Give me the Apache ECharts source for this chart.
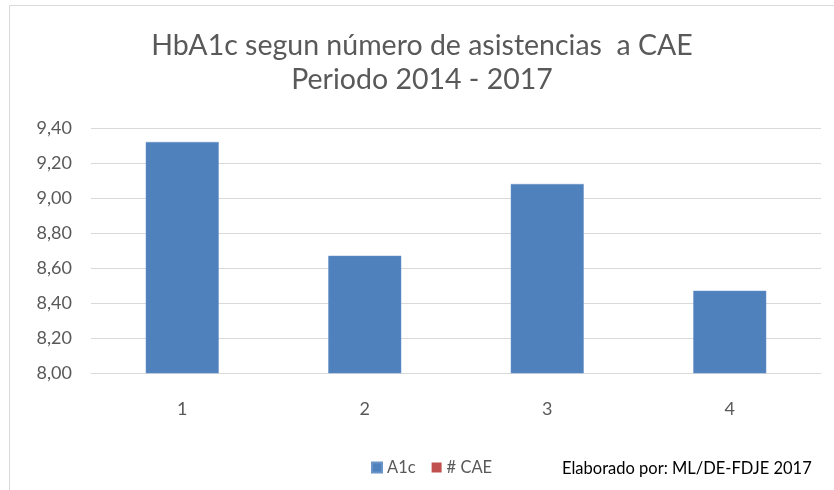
<!DOCTYPE html>
<html><head><meta charset="utf-8">
<script src="https://cdn.jsdelivr.net/npm/echarts@6/dist/echarts.min.js"></script>
<style>html,body{margin:0;padding:0;background:#fff}#c{width:834px;height:490px}</style>
</head><body><div id="c"></div>
<script>
const categories = ['1', '2', '3', '4'];
const a1cValues = [9.32, 8.67, 9.08, 8.47];
const caeValues = [];
const seriesNames = ['A1c', '# CAE'];
const titleLines = ['HbA1c segun número de asistencias  a CAE', 'Periodo 2014 - 2017'];
const footnote = 'Elaborado por: ML/DE-FDJE 2017';

const chart = echarts.init(document.getElementById('c'));
const font = 'Lato, "Open Sans", sans-serif';
chart.setOption({
  animation: false,
  backgroundColor: '#fff',
  title: {
    text: titleLines.join('\n'),
    left: 417, top: 24, textAlign: 'center',
    textStyle: { fontFamily: font, fontSize: 28.5, fontWeight: 'normal', color: '#595959', lineHeight: 34 }
  },
  graphic: [
    { type: 'rect', shape: { x: 9.5, y: 5.5, width: 900, height: 600 }, style: { fill: 'none', stroke: '#d9d9d9', lineWidth: 1 } },
    { type: 'text', left: 562, top: 460, style: { text: footnote, font: '16.5px ' + font, fill: '#000' } }
  ],
  legend: {
    data: seriesNames, left: 366, top: 454, itemWidth: 10, itemHeight: 10, itemGap: 16,
    icon: 'rect',
    textStyle: { fontFamily: font, fontSize: 16.5, color: '#595959' }
  },
  grid: { left: 91, right: 13, top: 128, bottom: 117 },
  xAxis: {
    type: 'category', data: categories,
    axisLine: { lineStyle: { color: '#d9d9d9' } }, axisTick: { show: false },
    axisLabel: { fontFamily: font, fontSize: 18, color: '#595959', margin: 27 }
  },
  yAxis: {
    type: 'value', min: 8, max: 9.4, interval: 0.2,
    axisLine: { show: false }, axisTick: { show: false },
    splitLine: { lineStyle: { color: '#d9d9d9' } },
    axisLabel: { fontFamily: font, fontSize: 18, color: '#595959', margin: 19,
      formatter: v => v.toFixed(2).replace('.', ',') }
  },
  series: [
    { name: seriesNames[0], type: 'bar', data: a1cValues, barWidth: 73, barGap: '-100%',
      itemStyle: { color: '#4f81bd', borderColor: '#6a93c8', borderWidth: 0.5 } },
    { name: seriesNames[1], type: 'bar', data: caeValues, barWidth: 73,
      itemStyle: { color: '#c0504d' } }
  ]
});
</script></body></html>
